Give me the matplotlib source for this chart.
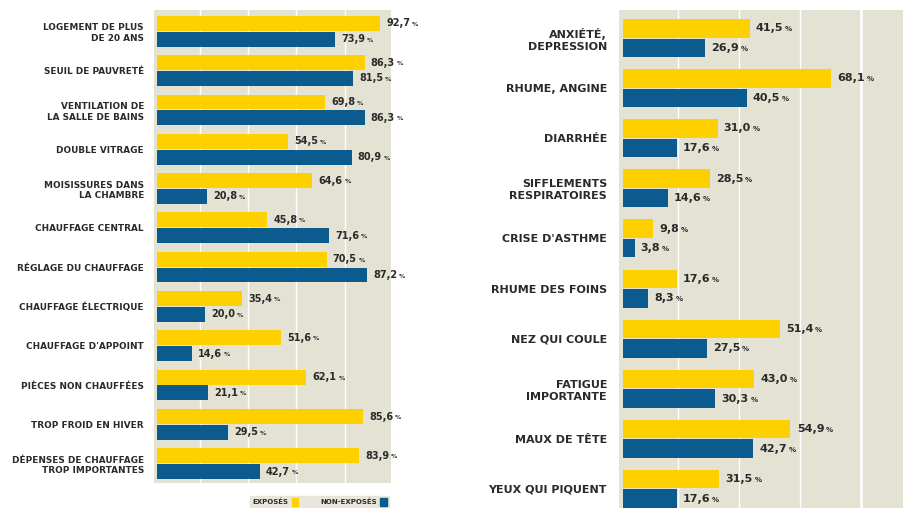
import matplotlib.pyplot as plt
from matplotlib.patches import Patch

# left panel : housing conditions
left_labels = ["LOGEMENT DE PLUS\nDE 20 ANS", "SEUIL DE PAUVRETÉ",
               "VENTILATION DE\nLA SALLE DE BAINS", "DOUBLE VITRAGE",
               "MOISISSURES DANS\nLA CHAMBRE", "CHAUFFAGE CENTRAL",
               "RÉGLAGE DU CHAUFFAGE", "CHAUFFAGE ÉLECTRIQUE",
               "CHAUFFAGE D'APPOINT", "PIÈCES NON CHAUFFÉES",
               "TROP FROID EN HIVER", "DÉPENSES DE CHAUFFAGE\nTROP IMPORTANTES"]
left_exposes = [92.7, 86.3, 69.8, 54.5, 64.6, 45.8, 70.5, 35.4, 51.6, 62.1, 85.6, 83.9]
left_non_exposes = [73.9, 81.5, 86.3, 80.9, 20.8, 71.6, 87.2, 20.0, 14.6, 21.1, 29.5, 42.7]

# right panel : symptoms
right_labels = ["ANXIÉTÉ,\nDEPRESSION", "RHUME, ANGINE", "DIARRHÉE",
                "SIFFLEMENTS\nRESPIRATOIRES", "CRISE D'ASTHME", "RHUME DES FOINS",
                "NEZ QUI COULE", "FATIGUE\nIMPORTANTE", "MAUX DE TÊTE",
                "YEUX QUI PIQUENT"]
right_exposes = [41.5, 68.1, 31.0, 28.5, 9.8, 17.6, 51.4, 43.0, 54.9, 31.5]
right_non_exposes = [26.9, 40.5, 17.6, 14.6, 3.8, 8.3, 27.5, 30.3, 42.7, 17.6]

legend_labels = ["EXPOSÉS", "NON-EXPOSÉS"]

YELLOW = '#FFD000'
BLUE = '#0B5B8E'
BEIGE = '#E4E2D3'
TXT = '#2a2a2a'
grid_x = [18, 38, 58, 78]

fig = plt.figure(figsize=(9.04, 5.08), dpi=100)


def fmt(v):
    return ('%.1f' % v).replace('.', ',')


def panel(rect, labels, exp, nonexp, xlim, ylim, off, h, lab_fs, val_fs, pct_fs, pad, thick):
    ax = fig.add_axes(rect)
    ax.set_facecolor(BEIGE)
    for i, g in enumerate(grid_x):
        lw = 2 if (thick and i == len(grid_x) - 1) else 1
        ax.axvline(g, color='white', lw=lw, zorder=1)
    ys = list(range(len(labels)))
    ax.barh([y - off for y in ys], exp, height=h, color=YELLOW, zorder=2)
    ax.barh([y + off for y in ys], nonexp, height=h, color=BLUE, zorder=2)
    for y, a, b in zip(ys, exp, nonexp):
        for v, yy in ((a, y - off), (b, y + off)):
            t = ax.annotate(fmt(v), xy=(v, yy), xytext=(4.5, 0), textcoords='offset points',
                            va='center', ha='left', fontsize=val_fs, fontweight='bold',
                            color=TXT, zorder=3)
            ax.annotate('%', xy=(1, 0.4), xycoords=t, xytext=(1.2, 0),
                        textcoords='offset points', va='center', ha='left',
                        fontsize=pct_fs, fontweight='bold', color=TXT)
    ax.set_xlim(*xlim)
    ax.set_ylim(*ylim)
    ax.set_yticks(ys)
    ax.set_yticklabels(labels, fontsize=lab_fs, fontweight='bold', color=TXT,
                       linespacing=1.25)
    ax.tick_params(axis='y', length=0, pad=pad)
    ax.set_xticks([])
    for s in ax.spines.values():
        s.set_visible(False)
    return ax


ax1 = panel([154 / 904, 25 / 508, 237 / 904, 473 / 508], left_labels,
            left_exposes, left_non_exposes, (-1.25, 97.3), (11.49, -0.54),
            0.2, 0.38, 6.4, 7, 4.5, 7.2, False)

ax2 = panel([619 / 904, 0, 285 / 904, 498 / 508], right_labels,
            right_exposes, right_non_exposes, (-1.3, 92.1), (9.38, -0.56),
            0.195, 0.37, 8, 8, 5, 8.6, True)

handles = [Patch(color=YELLOW), Patch(color=BLUE)]
leg = fig.legend(handles, legend_labels, loc='lower right',
                 bbox_to_anchor=(389 / 904, 0), ncol=2, markerfirst=False,
                 frameon=True, fancybox=False, fontsize=5,
                 handlelength=0.9, handleheight=1.2, handletextpad=0.5,
                 columnspacing=3.2, borderpad=0.35, borderaxespad=0)
leg.get_frame().set_facecolor(BEIGE)
leg.get_frame().set_edgecolor(BEIGE)
for t in leg.get_texts():
    t.set_color(TXT)
    t.set_fontweight('bold')

fig.savefig('out.png', dpi=100)
